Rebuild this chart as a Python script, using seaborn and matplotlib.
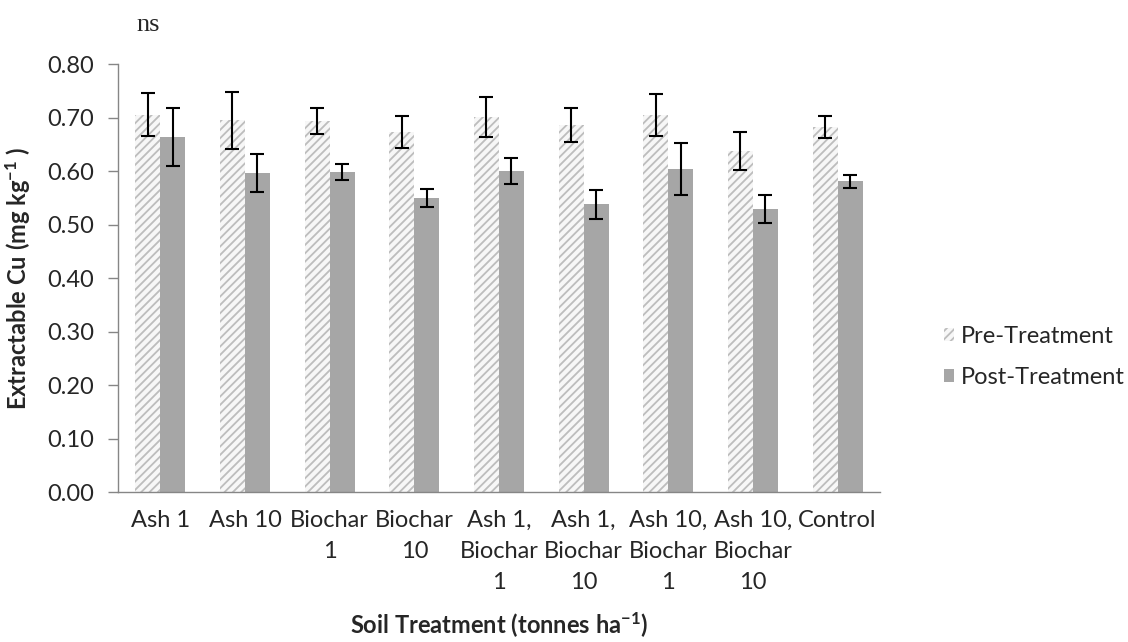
import pandas as pd
import numpy as np
import matplotlib.pyplot as plt
import seaborn as sns

# values
treatments = ['Ash 1', 'Ash 10', 'Biochar\n1', 'Biochar\n10', 'Ash 1,\nBiochar\n1',
              'Ash 1,\nBiochar\n10', 'Ash 10,\nBiochar\n1', 'Ash 10,\nBiochar\n10', 'Control']
pre_mean = [0.705, 0.695, 0.693, 0.673, 0.701, 0.686, 0.705, 0.637, 0.682]
pre_err = [0.040, 0.053, 0.024, 0.030, 0.038, 0.031, 0.039, 0.035, 0.021]
post_mean = [0.664, 0.596, 0.598, 0.550, 0.600, 0.538, 0.604, 0.529, 0.581]
post_err = [0.054, 0.036, 0.015, 0.017, 0.024, 0.027, 0.048, 0.026, 0.012]
series = ['Pre-Treatment', 'Post-Treatment']

df = pd.DataFrame({
    'treatment': treatments * 2,
    'value': pre_mean + post_mean,
    'series': [series[0]] * len(treatments) + [series[1]] * len(treatments),
})

sns.set_style('white')
plt.rcParams['font.family'] = ['Lato', 'DejaVu Sans']
plt.rcParams['mathtext.default'] = 'regular'
plt.rcParams['hatch.linewidth'] = 1.3
fs = 17
hatch_col = '#bdbdbd'

fig = plt.figure(figsize=(11.28, 6.42), dpi=100)
ax = fig.add_axes([0.1046, 0.2336, 0.6755, 0.6667])

sns.barplot(data=df, x='treatment', y='value', hue='series', order=treatments,
            hue_order=series, palette=['#f7f7f7', '#a6a6a6'], width=0.59,
            errorbar=None, saturation=1, ax=ax, edgecolor='none', linewidth=0)

errs = [pre_err, post_err]
bar_conts = list(ax.containers)[:2]
for i, cont in enumerate(bar_conts):
    xs = [b.get_x() + b.get_width() / 2 for b in cont]
    hs = [b.get_height() for b in cont]
    if i == 0:
        for b in cont:
            b.set_hatch('////')
            b.set_edgecolor(hatch_col)
            b.set_linewidth(0)
    ax.errorbar(xs, hs, yerr=errs[i], fmt='none', ecolor='black', elinewidth=1.5,
                capsize=5, capthick=1.5, zorder=5)

ax.set_ylim(0, 0.80)
yt = np.arange(0, 0.81, 0.10)
ax.set_yticks(yt)
ax.set_yticklabels([f'{v:.2f}' for v in yt], fontsize=fs)
ax.set_xlim(-0.5, len(treatments) - 0.5)
ax.set_xticks(range(len(treatments)))
ax.set_xticklabels(treatments, fontsize=fs, linespacing=1.6)
ax.set_xticks(np.arange(-0.5, len(treatments), 1.0), minor=True)
ax.tick_params(axis='x', which='major', length=0, pad=13)
ax.tick_params(axis='x', which='minor', length=7, color='#868686', width=1, direction='out')
ax.tick_params(axis='y', length=7, color='#868686', width=1, direction='out', left=True, pad=10)

for s in ['top', 'right']:
    ax.spines[s].set_visible(False)
for s in ['left', 'bottom']:
    ax.spines[s].set_color('#868686')
    ax.spines[s].set_linewidth(1)

ax.set_ylabel('Extractable Cu (mg kg$^{-1}$ )', fontsize=fs, fontweight='bold', labelpad=10)
ax.set_xlabel('Soil Treatment (tonnes ha$^{-1}$)', fontsize=fs, fontweight='bold', labelpad=12)

fig.text(0.121, 0.952, 'ns', fontsize=19, family='Liberation Serif')

handles, labels = ax.get_legend_handles_labels()
handles[0].set_hatch('////')
handles[0].set_edgecolor(hatch_col)
handles[0].set_linewidth(0)
ax.legend(handles, labels, loc='center left', bbox_to_anchor=(0.826, 0.444),
          bbox_transform=fig.transFigure, frameon=False, fontsize=fs, borderpad=0,
          handlelength=0.45, handleheight=0.45, handletextpad=0.3, labelspacing=0.85)

fig.savefig('out.png', dpi=100)
